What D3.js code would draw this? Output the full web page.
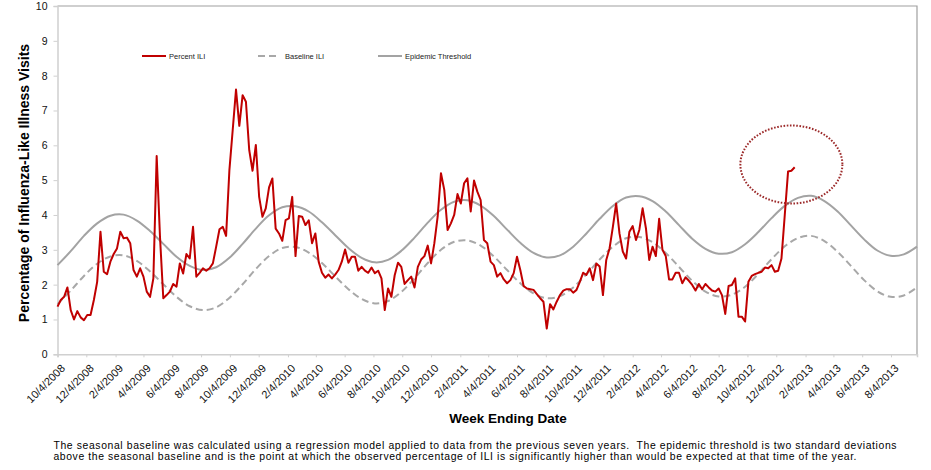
<!DOCTYPE html>
<html>
<head>
<meta charset="utf-8">
<script src="https://cdn.jsdelivr.net/npm/d3@7"></script>
<style>
body { margin: 0; background: #fff; }
text { font-family: "Liberation Sans", Arial, sans-serif; }
</style>
</head>
<body>
<svg id="chart" width="931" height="470"></svg>
<script>
// ---------------- DATA ----------------
const firstWeekEnding = "2008-10-04";
const lastAxisDate = "2013-09-28";

// Weekly percent ILI, one value per week starting 10/4/2008
const percentILI = [
  1.37, 1.56, 1.65, 1.92, 1.27, 1.00, 1.24, 1.06, 0.98, 1.13,
  1.13, 1.56, 2.08, 3.52, 2.37, 2.30, 2.66, 2.88, 3.04, 3.52,
  3.33, 3.35, 3.19, 2.42, 2.23, 2.47, 2.23, 1.80, 1.65, 2.18,
  5.69, 3.38, 1.61, 1.70, 1.80, 2.02, 1.94, 2.61, 2.32, 2.88,
  2.75, 3.66, 2.23, 2.34, 2.47, 2.40, 2.47, 2.61, 3.09, 3.59,
  3.66, 3.40, 5.29, 6.44, 7.60, 6.56, 7.44, 7.25, 5.86, 5.27,
  6.01, 4.52, 3.95, 4.19, 4.79, 5.05, 3.61, 3.47, 3.26, 3.85,
  3.90, 4.52, 2.82, 3.97, 3.95, 3.71, 3.85, 3.19, 3.47, 2.66,
  2.34, 2.20, 2.29, 2.18, 2.29, 2.42, 2.66, 3.01, 2.63, 2.80,
  2.80, 2.40, 2.51, 2.40, 2.34, 2.49, 2.33, 2.40, 2.18, 1.27,
  1.89, 1.65, 2.27, 2.63, 2.51, 2.02, 2.13, 2.23, 1.92, 2.51,
  2.72, 2.82, 3.12, 2.61, 3.19, 3.95, 5.20, 4.72, 3.57, 3.76,
  4.00, 4.60, 4.33, 4.91, 5.05, 4.10, 4.99, 4.67, 4.43, 3.28,
  3.19, 2.66, 2.56, 2.23, 2.33, 2.15, 2.04, 2.13, 2.33, 2.80,
  2.42, 1.96, 1.89, 1.87, 1.85, 1.73, 1.61, 1.51, 0.74, 1.44,
  1.29, 1.51, 1.70, 1.83, 1.87, 1.87, 1.77, 1.85, 2.08, 2.34,
  2.28, 2.47, 2.13, 2.61, 2.52, 1.70, 2.71, 3.04, 3.66, 4.33,
  3.47, 2.95, 2.75, 3.52, 3.68, 3.28, 3.57, 4.19, 3.62, 2.71,
  3.09, 2.82, 3.89, 3.00, 2.82, 2.15, 2.15, 2.34, 2.34, 2.04,
  2.21, 2.11, 1.99, 1.83, 2.02, 1.87, 2.02, 1.92, 1.83, 1.80,
  1.89, 1.70, 1.16, 1.96, 1.99, 2.18, 1.08, 1.08, 0.94, 2.08,
  2.25, 2.30, 2.34, 2.37, 2.49, 2.47, 2.56, 2.37, 2.40, 2.75,
  4.00, 5.25, 5.27, 5.37
];

// Baseline and threshold, read every 4th week starting 10/4/2008
const curveStepWeeks = 4;
const baselineILI = [
  1.44, 1.83, 2.25, 2.60, 2.81, 2.84, 2.68, 2.38, 2.01, 1.65,
  1.38, 1.27, 1.35, 1.62, 2.01, 2.45, 2.82, 3.05, 3.08, 2.92,
  2.62, 2.24, 1.87, 1.59, 1.46, 1.53, 1.79, 2.18, 2.62, 3.00,
  3.23, 3.27, 3.12, 2.81, 2.42, 2.04, 1.75, 1.61, 1.67, 1.92,
  2.30, 2.72, 3.09, 3.33, 3.37, 3.22, 2.91, 2.51, 2.11, 1.80,
  1.66, 1.71, 1.94, 2.31, 2.73, 3.10, 3.34, 3.40, 3.25, 2.94,
  2.54, 2.13, 1.81, 1.65, 1.69, 1.92
];
const epidemicThreshold = [
  2.56, 2.96, 3.40, 3.76, 3.98, 4.01, 3.84, 3.54, 3.17, 2.80,
  2.54, 2.42, 2.50, 2.77, 3.17, 3.61, 3.99, 4.22, 4.25, 4.10,
  3.79, 3.42, 3.05, 2.77, 2.64, 2.71, 2.97, 3.35, 3.78, 4.15,
  4.38, 4.42, 4.27, 3.97, 3.58, 3.20, 2.91, 2.78, 2.84, 3.09,
  3.47, 3.89, 4.26, 4.50, 4.54, 4.40, 4.10, 3.71, 3.32, 3.03,
  2.89, 2.93, 3.16, 3.51, 3.91, 4.26, 4.49, 4.55, 4.40, 4.10,
  3.70, 3.30, 2.98, 2.83, 2.87, 3.09
];

const xTickLabels = [
  "10/4/2008", "12/4/2008", "2/4/2009", "4/4/2009", "6/4/2009", "8/4/2009",
  "10/4/2009", "12/4/2009", "2/4/2010", "4/4/2010", "6/4/2010", "8/4/2010",
  "10/4/2010", "12/4/2010", "2/4/2011", "4/4/2011", "6/4/2011", "8/4/2011",
  "10/4/2011", "12/4/2011", "2/4/2012", "4/4/2012", "6/4/2012", "8/4/2012",
  "10/4/2012", "12/4/2012", "2/4/2013", "4/4/2013", "6/4/2013", "8/4/2013"
];
const yTickValues = [0, 1, 2, 3, 4, 5, 6, 7, 8, 9, 10];

const seriesNames = ["Percent ILI", "Baseline ILI", "Epidemic Threshold"];
const yAxisTitle = "Percentage of Influenza-Like Illness Visits";
const xAxisTitle = "Week Ending Date";
const footnoteLines = [
  "The seasonal baseline was calculated using a regression model applied to data from the previous seven years.  The epidemic threshold is two standard deviations",
  "above the seasonal baseline and is the point at which the observed percentage of ILI is significantly higher than would be expected at that time of the year."
];

// highlight ellipse (annotation) in data units
const highlightCenterDate = "2013-01-05";
const highlightCenterValue = 5.45;
const highlightRadiusDays = 108;
const highlightRadiusValue = 1.12;

// ---------------- CHART ----------------
const svg = d3.select("#chart");
const W = 931, H = 470;
const plot = { left: 57.5, right: 917, top: 6, bottom: 354.3 };

const parseISO = d3.timeParse("%Y-%m-%d");
const parseMDY = d3.timeParse("%m/%d/%Y");
const start = parseISO(firstWeekEnding);

const x = d3.scaleTime()
  .domain([start, parseISO(lastAxisDate)])
  .range([plot.left, plot.right]);
const y = d3.scaleLinear().domain([0, 10]).range([plot.bottom, plot.top]);

svg.append("rect").attr("width", W).attr("height", H).attr("fill", "#fff");

// plot frame (top & right)
svg.append("path")
  .attr("d", `M${plot.left},${plot.top}H${plot.right}V${plot.bottom}`)
  .attr("fill", "none").attr("stroke", "#a0a0a0").attr("stroke-width", 1.2);

// Y axis
const yAxis = svg.append("g")
  .attr("transform", `translate(${plot.left},0)`)
  .call(d3.axisLeft(y).tickValues(yTickValues).tickSize(4).tickPadding(6).tickFormat(d3.format("d")));
yAxis.select(".domain").attr("stroke", "#d0d0d0").attr("stroke-width", 1.5);
yAxis.selectAll(".tick line").attr("stroke", "#d0d0d0");
yAxis.selectAll(".tick text").attr("font-size", "10.5px").attr("fill", "#111")
  .style("font-family", "'Liberation Sans', Arial, sans-serif");

// X axis
const xTickDates = xTickLabels.map(parseMDY);
const xAxis = svg.append("g")
  .attr("transform", `translate(0,${plot.bottom})`)
  .call(d3.axisBottom(x).tickValues(xTickDates).tickSize(3)
    .tickFormat((d, i) => xTickLabels[i]));
xAxis.select(".domain").attr("stroke", "#d0d0d0").attr("stroke-width", 1.5);
xAxis.selectAll(".tick line").attr("stroke", "#d0d0d0");
xAxis.selectAll(".tick text")
  .attr("font-size", "11px").attr("fill", "#111")
  .style("font-family", "'Liberation Sans', Arial, sans-serif")
  .attr("x", 0).attr("y", 0).attr("dy", "0.35em")
  .attr("text-anchor", "end")
  .attr("transform", "translate(5,12) rotate(-45)");

// lines
const weekDate = i => d3.timeDay.offset(start, 7 * i);
const curveDate = i => d3.timeDay.offset(start, 7 * curveStepWeeks * i);

const smoothLine = d3.line()
  .x((d, i) => x(curveDate(i)))
  .y(d => y(d))
  .curve(d3.curveCatmullRom);

svg.append("path").datum(epidemicThreshold)
  .attr("d", smoothLine)
  .attr("fill", "none").attr("stroke", "#a3a3a3").attr("stroke-width", 2);

svg.append("path").datum(baselineILI)
  .attr("d", smoothLine)
  .attr("fill", "none").attr("stroke", "#a8a8a8").attr("stroke-width", 2)
  .attr("stroke-dasharray", "7,4");

const iliLine = d3.line()
  .x((d, i) => x(weekDate(i)))
  .y(d => y(d));
svg.append("path").datum(percentILI)
  .attr("d", iliLine)
  .attr("fill", "none").attr("stroke", "#c00000").attr("stroke-width", 2)
  .attr("stroke-linejoin", "round");

// highlight ellipse
const cDate = parseISO(highlightCenterDate);
const cx = x(cDate), cy = y(highlightCenterValue);
const rx = x(d3.timeDay.offset(cDate, highlightRadiusDays)) - cx;
const ry = cy - y(highlightCenterValue + highlightRadiusValue);
svg.append("ellipse")
  .attr("cx", cx).attr("cy", cy).attr("rx", rx).attr("ry", ry)
  .attr("fill", "none").attr("stroke", "#9c2a2a").attr("stroke-width", 2)
  .attr("stroke-dasharray", "1.6,1.6");

// legend
const legendY = 56;
const legendItems = [
  { name: seriesNames[0], x1: 142, x2: 166, tx: 169, color: "#c00000", dash: null },
  { name: seriesNames[1], x1: 258, x2: 279, tx: 285, color: "#a8a8a8", dash: "7,4" },
  { name: seriesNames[2], x1: 378, x2: 402, tx: 405, color: "#a3a3a3", dash: null }
];
const lg = svg.append("g");
legendItems.forEach(it => {
  lg.append("line").attr("x1", it.x1).attr("x2", it.x2).attr("y1", legendY).attr("y2", legendY)
    .attr("stroke", it.color).attr("stroke-width", 2)
    .attr("stroke-dasharray", it.dash);
  lg.append("text").attr("x", it.tx).attr("y", legendY).attr("dy", "0.35em")
    .attr("font-size", "7.5px").attr("fill", "#222").text(it.name);
});

// axis titles
svg.append("text")
  .attr("transform", "translate(24,183) rotate(-90)")
  .attr("text-anchor", "middle").attr("dy", "0.35em")
  .attr("font-size", "14px").attr("font-weight", "bold").attr("fill", "#000")
  .text(yAxisTitle);

svg.append("text")
  .attr("x", 508).attr("y", 423)
  .attr("text-anchor", "middle")
  .attr("font-size", "13.5px").attr("font-weight", "bold").attr("fill", "#000")
  .text(xAxisTitle);

// footnote
const fnWidths = [843, 803];
footnoteLines.forEach((t, i) => {
  svg.append("text")
    .attr("x", 53.5).attr("y", 449 + i * 11.3)
    .attr("font-size", "10.4px").attr("fill", "#000")
    .attr("xml:space", "preserve").style("white-space", "pre")
    .attr("textLength", fnWidths[i]).attr("lengthAdjust", "spacing")
    .text(t);
});
</script>
</body>
</html>
